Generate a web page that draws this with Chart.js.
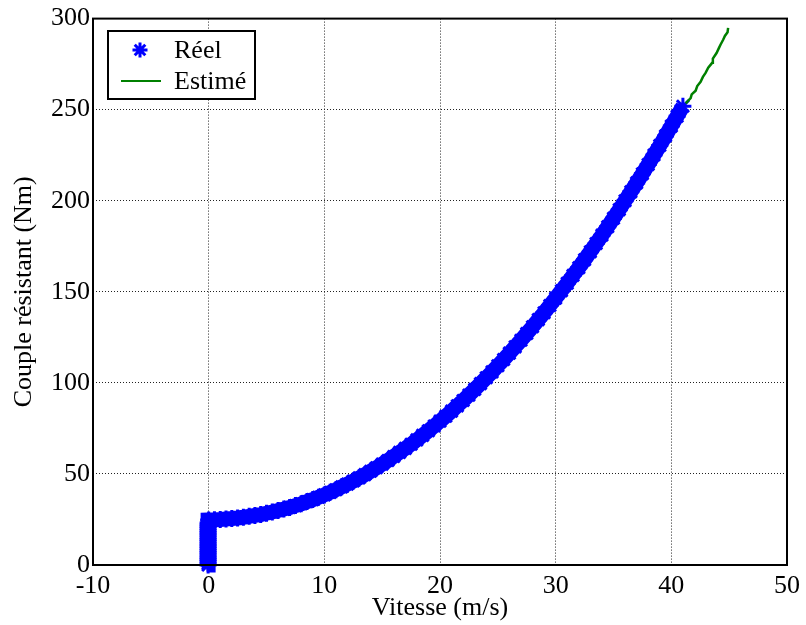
<!DOCTYPE html>
<html><head><meta charset="utf-8">
<script src="https://cdn.jsdelivr.net/npm/chart.js@4.4.1/dist/chart.umd.min.js"></script>
<style>html,body{margin:0;padding:0;background:#fff}#wrap{width:806px;height:625px}</style>
</head><body><div id="wrap"><canvas id="c" width="806" height="625"></canvas></div>
<script>
// Vertical start-up segment (speed ~0) then the measured curve
const reelStartX = [-0.05,-0.05,-0.05,-0.05,-0.05,-0.05,-0.05,-0.05,-0.05,-0.05,-0.05,-0.05,-0.05,-0.05,-0.05,-0.05,-0.05,-0.05,-0.05,-0.05,-0.05,-0.05,-0.05,-0.05];
const reelStartY = [0,1,2,3,4,5,6,7,8,9,10,11,12,13,14,15,16,17,18,19,20,21,22,23];
const reelCurveX = [0,0.5,1,1.5,2,2.5,3,3.5,4,4.5,5,5.5,6,6.5,7,7.5,8,8.5,9,9.5,10,10.5,11,11.5,12,12.5,13,13.5,14,14.5,15,15.5,16,16.5,17,17.5,18,18.5,19,19.5,20,20.5,21,21.5,22,22.5,23,23.5,24,24.5,25,25.5,26,26.5,27,27.5,28,28.5,29,29.5,30,30.5,31,31.5,32,32.5,33,33.5,34,34.5,35,35.5,36,36.5,37,37.5,38,38.5,39,39.5,40,40.5,41];
const reelCurveY = [24.7,24.8,25.0,25.3,25.5,25.8,26.2,26.7,27.2,27.7,28.4,29.1,29.9,30.7,31.6,32.6,33.6,34.8,35.9,37.2,38.5,39.9,41.3,42.9,44.4,46.1,47.8,49.6,51.5,53.4,55.4,57.4,59.6,61.8,64.0,66.3,68.7,71.2,73.7,76.3,79.0,81.7,84.5,87.4,90.3,93.3,96.4,99.6,102.8,106.0,109.4,112.8,116.3,119.8,123.4,127.1,130.8,134.7,138.5,142.5,146.5,150.6,154.7,159.0,163.2,167.6,172.0,176.5,181.1,185.7,190.4,195.1,200.0,204.9,209.8,214.8,219.9,225.1,230.3,235.6,241.0,246.4,251.9];
const estX = [41.24,41.67,41.76,42.10,42.24,42.53,42.73,42.96,43.19,43.53,43.59,43.91,44.11,44.26,44.48,44.63,44.86,44.91];
const estY = [253.5,256.3,258.4,260.4,263.0,265.3,268.0,270.2,273.1,275.7,278.0,281.1,283.8,285.8,288.4,290.5,292.5,294.9];
const xTicks = [-10,0,10,20,30,40,50];
const yTicks = [0,50,100,150,200,250,300];
const seriesNames = ['Réel','Estimé'];
const xTitle = 'Vitesse (m/s)';
const yTitle = 'Couple résistant (Nm)';

const FONT = "'Liberation Serif','Times New Roman',serif";
const BLUE = '#0000ff', GREEN = '#008000';

const reelData = reelStartX.map((x,i)=>({x, y: reelStartY[i]}))
  .concat(reelCurveX.map((x,i)=>({x, y: reelCurveY[i]})));
const estData = estX.map((x,i)=>({x, y: estY[i]}));

const boxAndLegend = {
  id: 'boxAndLegend',
  afterDatasetsDraw(chart) {
    const {ctx, chartArea: a} = chart;
    ctx.save();
    ctx.strokeStyle = '#000'; ctx.lineWidth = 2;
    ctx.strokeRect(a.left, a.top, a.right - a.left, a.bottom - a.top);
    // legend
    const lx = 108, ly = 31, lw = 147, lh = 68;
    ctx.fillStyle = '#fff';
    ctx.fillRect(lx, ly, lw, lh);
    ctx.strokeRect(lx, ly, lw, lh);
    ctx.fillStyle = BLUE; ctx.strokeStyle = BLUE; ctx.lineWidth = 3;
    Chart.helpers.drawPoint(ctx, {pointStyle: 'star', radius: 7.5, rotation: 0, borderWidth: 3}, 140, 50);
    ctx.strokeStyle = GREEN; ctx.lineWidth = 2;
    ctx.beginPath(); ctx.moveTo(121, 81); ctx.lineTo(161, 81); ctx.stroke();
    ctx.fillStyle = '#000';
    ctx.font = '26px ' + FONT;
    ctx.textAlign = 'left'; ctx.textBaseline = 'middle';
    ctx.fillText(chart.data.datasets[0].label, 174, 51);
    ctx.fillText(chart.data.datasets[1].label, 174, 82);
    ctx.restore();
  }
};

new Chart(document.getElementById('c'), {
  type: 'scatter',
  data: {
    datasets: [
      { label: seriesNames[0], data: reelData, showLine: true, borderColor: BLUE, borderWidth: 15,
        backgroundColor: BLUE, pointStyle: 'star', pointRadius: 8.5, pointBorderWidth: 3,
        pointBorderColor: BLUE, pointBackgroundColor: BLUE, pointHoverRadius: 8.5, clip: false, order: 2 },
      { label: seriesNames[1], data: estData, showLine: true, borderColor: GREEN, borderWidth: 2.5,
        pointRadius: 0, clip: false, order: 1 }
    ]
  },
  options: {
    responsive: false, animation: false, devicePixelRatio: 1,
    layout: { padding: { top: 16, right: 18, left: 0, bottom: 0 } },
    plugins: { legend: { display: false }, tooltip: { enabled: false } },
    scales: {
      x: {
        type: 'linear', min: -10, max: 50,
        afterBuildTicks: s => { s.ticks = xTicks.map(v => ({value: v})); },
        afterFit: s => { s.height = 60; },
        ticks: { color: '#000', font: { family: FONT, size: 26 }, padding: 6, maxRotation: 0 },
        grid: { color: '#222', lineWidth: 1, drawTicks: false },
        border: { display: false, dash: [1, 2] },
        title: { display: true, text: xTitle, color: '#000', font: { family: FONT, size: 26 }, padding: { top: 0, bottom: 1 } }
      },
      y: {
        type: 'linear', min: 0, max: 300,
        afterBuildTicks: s => { s.ticks = yTicks.map(v => ({value: v})); },
        afterFit: s => { s.width = 93; },
        ticks: { color: '#000', font: { family: FONT, size: 26 }, padding: 3 },
        grid: { color: '#222', lineWidth: 1, drawTicks: false },
        border: { display: false, dash: [1, 2] },
        title: { display: true, text: yTitle, color: '#000', font: { family: FONT, size: 26 }, padding: { top: 9, bottom: 0 } }
      }
    }
  },
  plugins: [boxAndLegend]
});
</script></body></html>
